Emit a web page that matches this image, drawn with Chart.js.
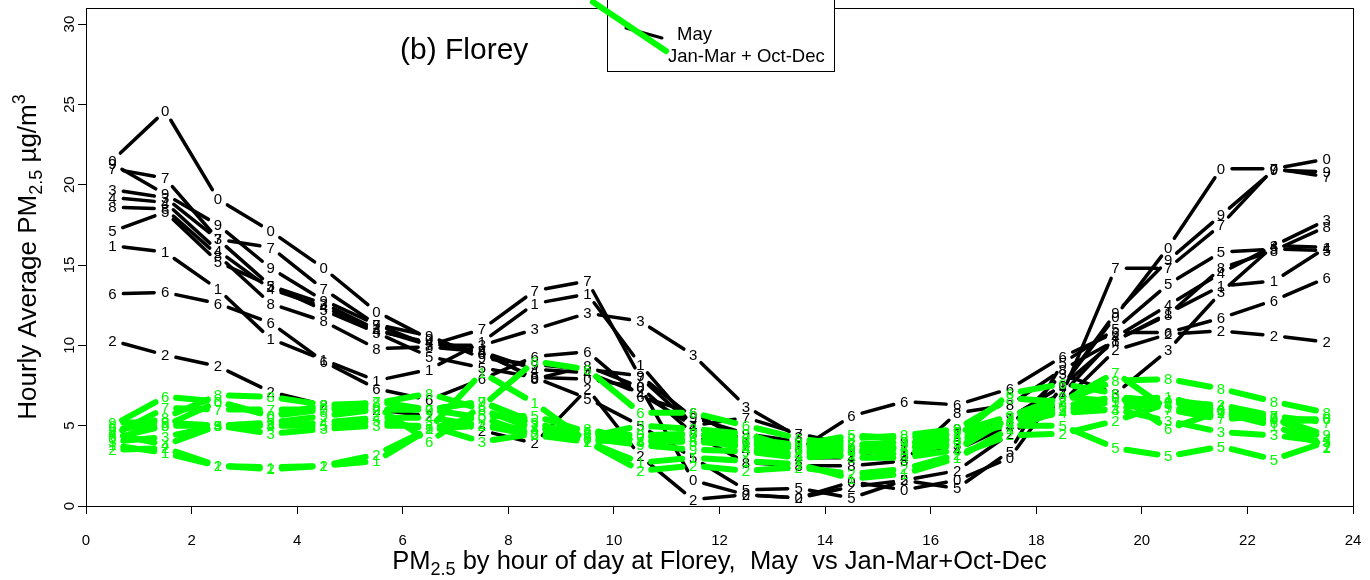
<!DOCTYPE html>
<html><head><meta charset="utf-8">
<script src="https://cdn.jsdelivr.net/npm/chart.js@4.4.1/dist/chart.umd.min.js"></script>
<style>html,body{margin:0;padding:0;background:#fff;}#wrap{width:1370px;height:580px;}</style>
</head><body><div id="wrap"><canvas id="c" width="1370" height="580"></canvas></div>
<script>
// ---- data ----
const hours = [0.5,1.5,2.5,3.5,4.5,5.5,6.5,7.5,8.5,9.5,10.5,11.5,12.5,13.5,14.5,15.5,16.5,17.5,18.5,19.5,20.5,21.5,22.5,23.5];
const yearCodes = ['0','1','2','3','4','5','6','7','8','9'];
const xTickValues = [0,2,4,6,8,10,12,14,16,18,20,22,24];
const yTickValues = [0,5,10,15,20,25,30];
const legendLabels = ['May','Jan-Mar + Oct-Dec'];

// May (black)
const may0 = [21.5,24.6,19.1,17.1,14.8,12.1,10.4,9.5,8.0,7.9,7.4,1.6,0.7,0.5,1.5,1.0,1.6,3.0,7.5,11.8,16.1,21.0,21.0,21.6];
const may1 = [16.2,15.8,13.5,10.4,9.1,7.8,8.5,10.2,12.6,13.2,8.8,5.0,4.0,3.8,3.2,3.5,4.5,5.5,7.5,10.3,12.0,13.7,14.0,16.1];
const may2 = [10.3,9.4,8.7,7.1,6.3,6.0,5.6,4.7,3.9,7.3,3.1,0.4,0.7,0.5,1.2,1.6,2.2,4.5,6.5,9.7,10.7,10.9,10.6,10.2];
const may3 = [19.7,19.2,16.6,13.7,12.6,11.0,10.0,10.0,11.0,12.0,11.5,9.4,6.2,4.3,3.5,3.2,3.8,5.0,8.2,7.0,9.7,13.3,16.2,17.8];
const may4 = [19.2,18.9,15.9,13.5,12.4,10.9,10.2,9.6,8.5,8.3,7.0,5.0,3.5,3.0,3.0,3.0,3.5,5.0,7.0,10.5,12.5,14.5,16.2,16.1];
const may5 = [17.1,18.3,15.2,13.7,12.2,10.8,9.3,8.6,8.0,6.7,5.0,3.0,1.0,1.1,0.5,1.6,1.1,3.4,8.9,11.0,13.8,15.8,16.0,15.9];
const may6 = [13.2,13.3,12.6,11.4,9.0,7.3,6.6,7.9,9.3,9.6,6.8,5.8,4.0,3.5,5.6,6.5,6.3,7.3,9.3,10.8,10.8,11.7,12.8,14.2];
const may7 = [21.0,20.4,16.6,16.1,13.5,11.3,10.0,11.0,13.4,14.0,8.0,5.0,5.5,4.5,3.8,3.5,4.5,5.5,7.0,14.8,14.8,17.5,21.0,20.5];
const may8 = [18.6,18.5,15.6,12.6,11.5,9.8,9.9,9.6,7.9,8.7,7.4,4.5,2.7,2.5,2.5,2.8,5.8,6.3,8.5,10.3,11.9,14.8,15.9,17.4];
const may9 = [21.3,19.4,17.5,14.8,12.8,11.3,10.6,9.2,8.8,8.5,8.1,5.5,4.5,4.0,3.5,4.0,4.8,5.5,7.5,12.0,15.3,18.1,20.9,20.8];

// Jan-Mar + Oct-Dec (green)
const win0 = [4.2,5.0,6.5,5.6,6.0,6.0,6.0,5.5,4.4,4.2,4.4,4.5,4.2,3.8,3.5,3.2,4.0,5.2,6.2,6.8,6.5,6.0,5.4,5.4];
const win1 = [3.8,3.3,2.5,2.4,2.5,2.8,4.8,8.3,6.4,4.0,2.7,3.0,2.8,2.6,1.7,2.0,3.0,4.8,6.0,6.5,6.8,5.8,5.0,3.7];
const win2 = [3.5,3.6,2.5,2.3,2.5,3.2,4.8,5.0,4.4,4.0,2.2,2.5,2.2,2.4,2.0,2.3,3.2,4.4,4.5,5.3,6.4,6.3,5.6,3.6];
const win3 = [4.0,4.3,5.0,4.5,4.8,5.0,5.0,4.0,4.5,4.3,5.0,4.8,4.5,3.5,3.0,3.0,3.5,5.5,6.0,6.0,5.3,4.6,4.4,4.0];
const win4 = [4.5,3.8,5.0,5.0,5.2,5.5,5.5,5.0,4.8,4.6,4.0,4.2,3.6,3.2,3.5,3.6,4.2,5.2,5.8,6.0,6.6,6.2,5.4,4.2];
const win5 = [4.8,5.0,5.0,5.0,5.0,5.3,4.8,5.6,5.6,4.6,4.4,4.0,4.0,3.8,4.4,4.2,4.6,5.0,5.0,3.6,3.1,3.7,2.9,4.0];
const win6 = [5.0,6.8,6.5,5.6,6.3,6.2,4.0,6.2,9.0,8.5,5.8,5.8,5.0,4.2,3.8,3.5,4.3,7.0,7.6,7.0,4.8,5.9,5.2,5.4];
const win7 = [4.4,6.1,6.0,6.0,6.0,6.5,6.0,6.5,5.0,4.0,4.2,4.5,4.0,3.5,3.8,4.0,3.6,5.5,6.5,8.3,6.0,5.4,5.6,5.2];
const win8 = [4.6,5.5,6.9,6.8,6.3,6.4,7.0,6.0,4.8,4.8,4.0,4.0,3.8,3.6,4.2,4.4,4.8,6.7,6.5,7.8,7.9,7.3,6.5,5.8];
const win9 = [5.2,5.2,5.0,5.2,5.6,6.0,6.0,6.5,5.2,4.2,3.8,3.5,3.4,3.0,3.2,3.8,4.6,5.6,6.8,6.5,6.1,5.8,5.5,4.4];

const maySeries = [may0,may1,may2,may3,may4,may5,may6,may7,may8,may9];
const winSeries = [win0,win1,win2,win3,win4,win5,win6,win7,win8,win9];

// ---- styling ----
const FONT = '"Liberation Sans", Arial, Helvetica, sans-serif';
const BLACK = '#000000';
const GREEN = '#00ff00';

function gapSegment(gap, color) {
  const len = c => Math.hypot(c.p1.x - c.p0.x, c.p1.y - c.p0.y);
  return {
    borderDash: c => { const d = len(c) - 2 * gap; return [Math.max(d, 0.01), 100000]; },
    borderDashOffset: c => { const d = Math.max(len(c) - 2 * gap, 0.01); return d + 100000 - gap + c.p0DataIndex * 1e-4; },
    borderColor: c => (len(c) - 2 * gap > 0.5 ? color : 'rgba(0,0,0,0)')
  };
}

function makeDataset(values, code, color, width, group) {
  return {
    label: code,
    group: group,
    data: hours.map((h, i) => ({x: h, y: values[i]})),
    borderColor: color,
    backgroundColor: color,
    borderWidth: width,
    borderCapStyle: 'round',
    pointRadius: 0,
    pointHoverRadius: 0,
    tension: 0,
    order: group === 'may' ? 1 : 0,
    segment: gapSegment(11, color)
  };
}

const datasets = [];
maySeries.forEach((v, i) => datasets.push(makeDataset(v, yearCodes[i], BLACK, 3.5, 'may')));
winSeries.forEach((v, i) => datasets.push(makeDataset(v, yearCodes[i], GREEN, 6, 'win')));

// point labels drawn at the library's point elements
const pointLabels = {
  id: 'pointLabels',
  afterDatasetsDraw(chart) {
    const ctx = chart.ctx;
    ctx.save();
    ctx.font = '15px ' + FONT;
    ctx.textAlign = 'center';
    ctx.textBaseline = 'middle';
    ['may', 'win'].forEach(g => {
      chart.data.datasets.forEach((ds, i) => {
        if (ds.group !== g) return;
        const meta = chart.getDatasetMeta(i);
        ctx.fillStyle = ds.borderColor;
        meta.data.forEach(pt => ctx.fillText(ds.label, pt.x, pt.y + 1));
      });
    });
    ctx.restore();
  }
};

function drawPieces(ctx, pieces, x, y, align) {
  let total = 0;
  pieces.forEach(p => { ctx.font = p.size + 'px ' + FONT; p.w = ctx.measureText(p.t).width; total += p.w; });
  let cx = align === 'center' ? x - total / 2 : x;
  pieces.forEach(p => { ctx.font = p.size + 'px ' + FONT; ctx.fillText(p.t, cx, y + (p.dy || 0)); cx += p.w; });
}

const decorations = {
  id: 'decorations',
  afterDraw(chart) {
    const ctx = chart.ctx;
    const a = chart.chartArea;
    ctx.save();
    // plot box
    ctx.strokeStyle = BLACK; ctx.lineWidth = 1;
    ctx.strokeRect(a.left + 0.5, a.top + 0.5, a.right - a.left, a.bottom - a.top);
    ctx.fillStyle = BLACK;
    ctx.textBaseline = 'alphabetic';
    // x title
    drawPieces(ctx, [
      {t: 'PM', size: 25.5}, {t: '2.5', size: 18, dy: 6},
      {t: ' by hour of day at Florey,  May  vs Jan-Mar+Oct-Dec', size: 25.5}
    ], (a.left + a.right) / 2, 569, 'center');
    // y title
    ctx.save();
    ctx.translate(36, (a.top + a.bottom) / 2);
    ctx.rotate(-Math.PI / 2);
    drawPieces(ctx, [
      {t: 'Hourly Average PM', size: 26}, {t: '2.5', size: 18, dy: 6},
      {t: ' \u00b5g/m', size: 26}, {t: '3', size: 18, dy: -11}
    ], 0, 0, 'center');
    ctx.restore();
    // panel title
    ctx.font = '30px ' + FONT;
    ctx.textAlign = 'left';
    ctx.fillText('(b) Florey', 400, 59);
    // legend
    ctx.fillStyle = '#ffffff';
    ctx.fillRect(607, -1, 227, 73);
    ctx.strokeStyle = BLACK; ctx.lineWidth = 1;
    ctx.strokeRect(607.5, -0.5, 227, 72);
    ctx.lineCap = 'round';
    ctx.strokeStyle = BLACK; ctx.lineWidth = 3;
    ctx.beginPath(); ctx.moveTo(626, 28); ctx.lineTo(662, 38); ctx.stroke();
    ctx.strokeStyle = GREEN; ctx.lineWidth = 6;
    ctx.beginPath(); ctx.moveTo(593, 2); ctx.lineTo(666, 51); ctx.stroke();
    ctx.fillStyle = BLACK;
    ctx.font = '18.5px ' + FONT;
    ctx.fillText(legendLabels[0], 677, 40);
    ctx.fillText(legendLabels[1], 668, 62);
    ctx.restore();
  }
};

new Chart(document.getElementById('c'), {
  type: 'line',
  data: {datasets: datasets},
  options: {
    responsive: false,
    animation: false,
    devicePixelRatio: 1,
    layout: {padding: {top: 8, right: 17, bottom: 0, left: 0}},
    plugins: {legend: {display: false}, tooltip: {enabled: false}, title: {display: false}},
    scales: {
      x: {
        type: 'linear', min: 0, max: 24,
        afterBuildTicks: s => { s.ticks = xTickValues.map(v => ({value: v})); },
        afterFit: s => { s.height = 74; s.paddingLeft = 0; s.paddingRight = 0; },
        ticks: {color: BLACK, font: {size: 15, family: FONT}, padding: 18, maxRotation: 0, autoSkip: false},
        grid: {drawOnChartArea: false, drawTicks: true, tickLength: 8, color: BLACK},
        border: {display: true, color: BLACK, width: 1}
      },
      y: {
        type: 'linear', min: 0, max: 31,
        afterBuildTicks: s => { s.ticks = yTickValues.map(v => ({value: v})); },
        afterFit: s => { s.width = 86; s.paddingTop = 0; s.paddingBottom = 0; },
        ticks: {color: BLACK, font: {size: 15, family: FONT}, padding: 0, minRotation: 90, maxRotation: 90, crossAlign: 'center', autoSkip: false},
        grid: {drawOnChartArea: false, drawTicks: true, tickLength: 8, color: BLACK},
        border: {display: true, color: BLACK, width: 1}
      }
    }
  },
  plugins: [pointLabels, decorations]
});
</script></body></html>
